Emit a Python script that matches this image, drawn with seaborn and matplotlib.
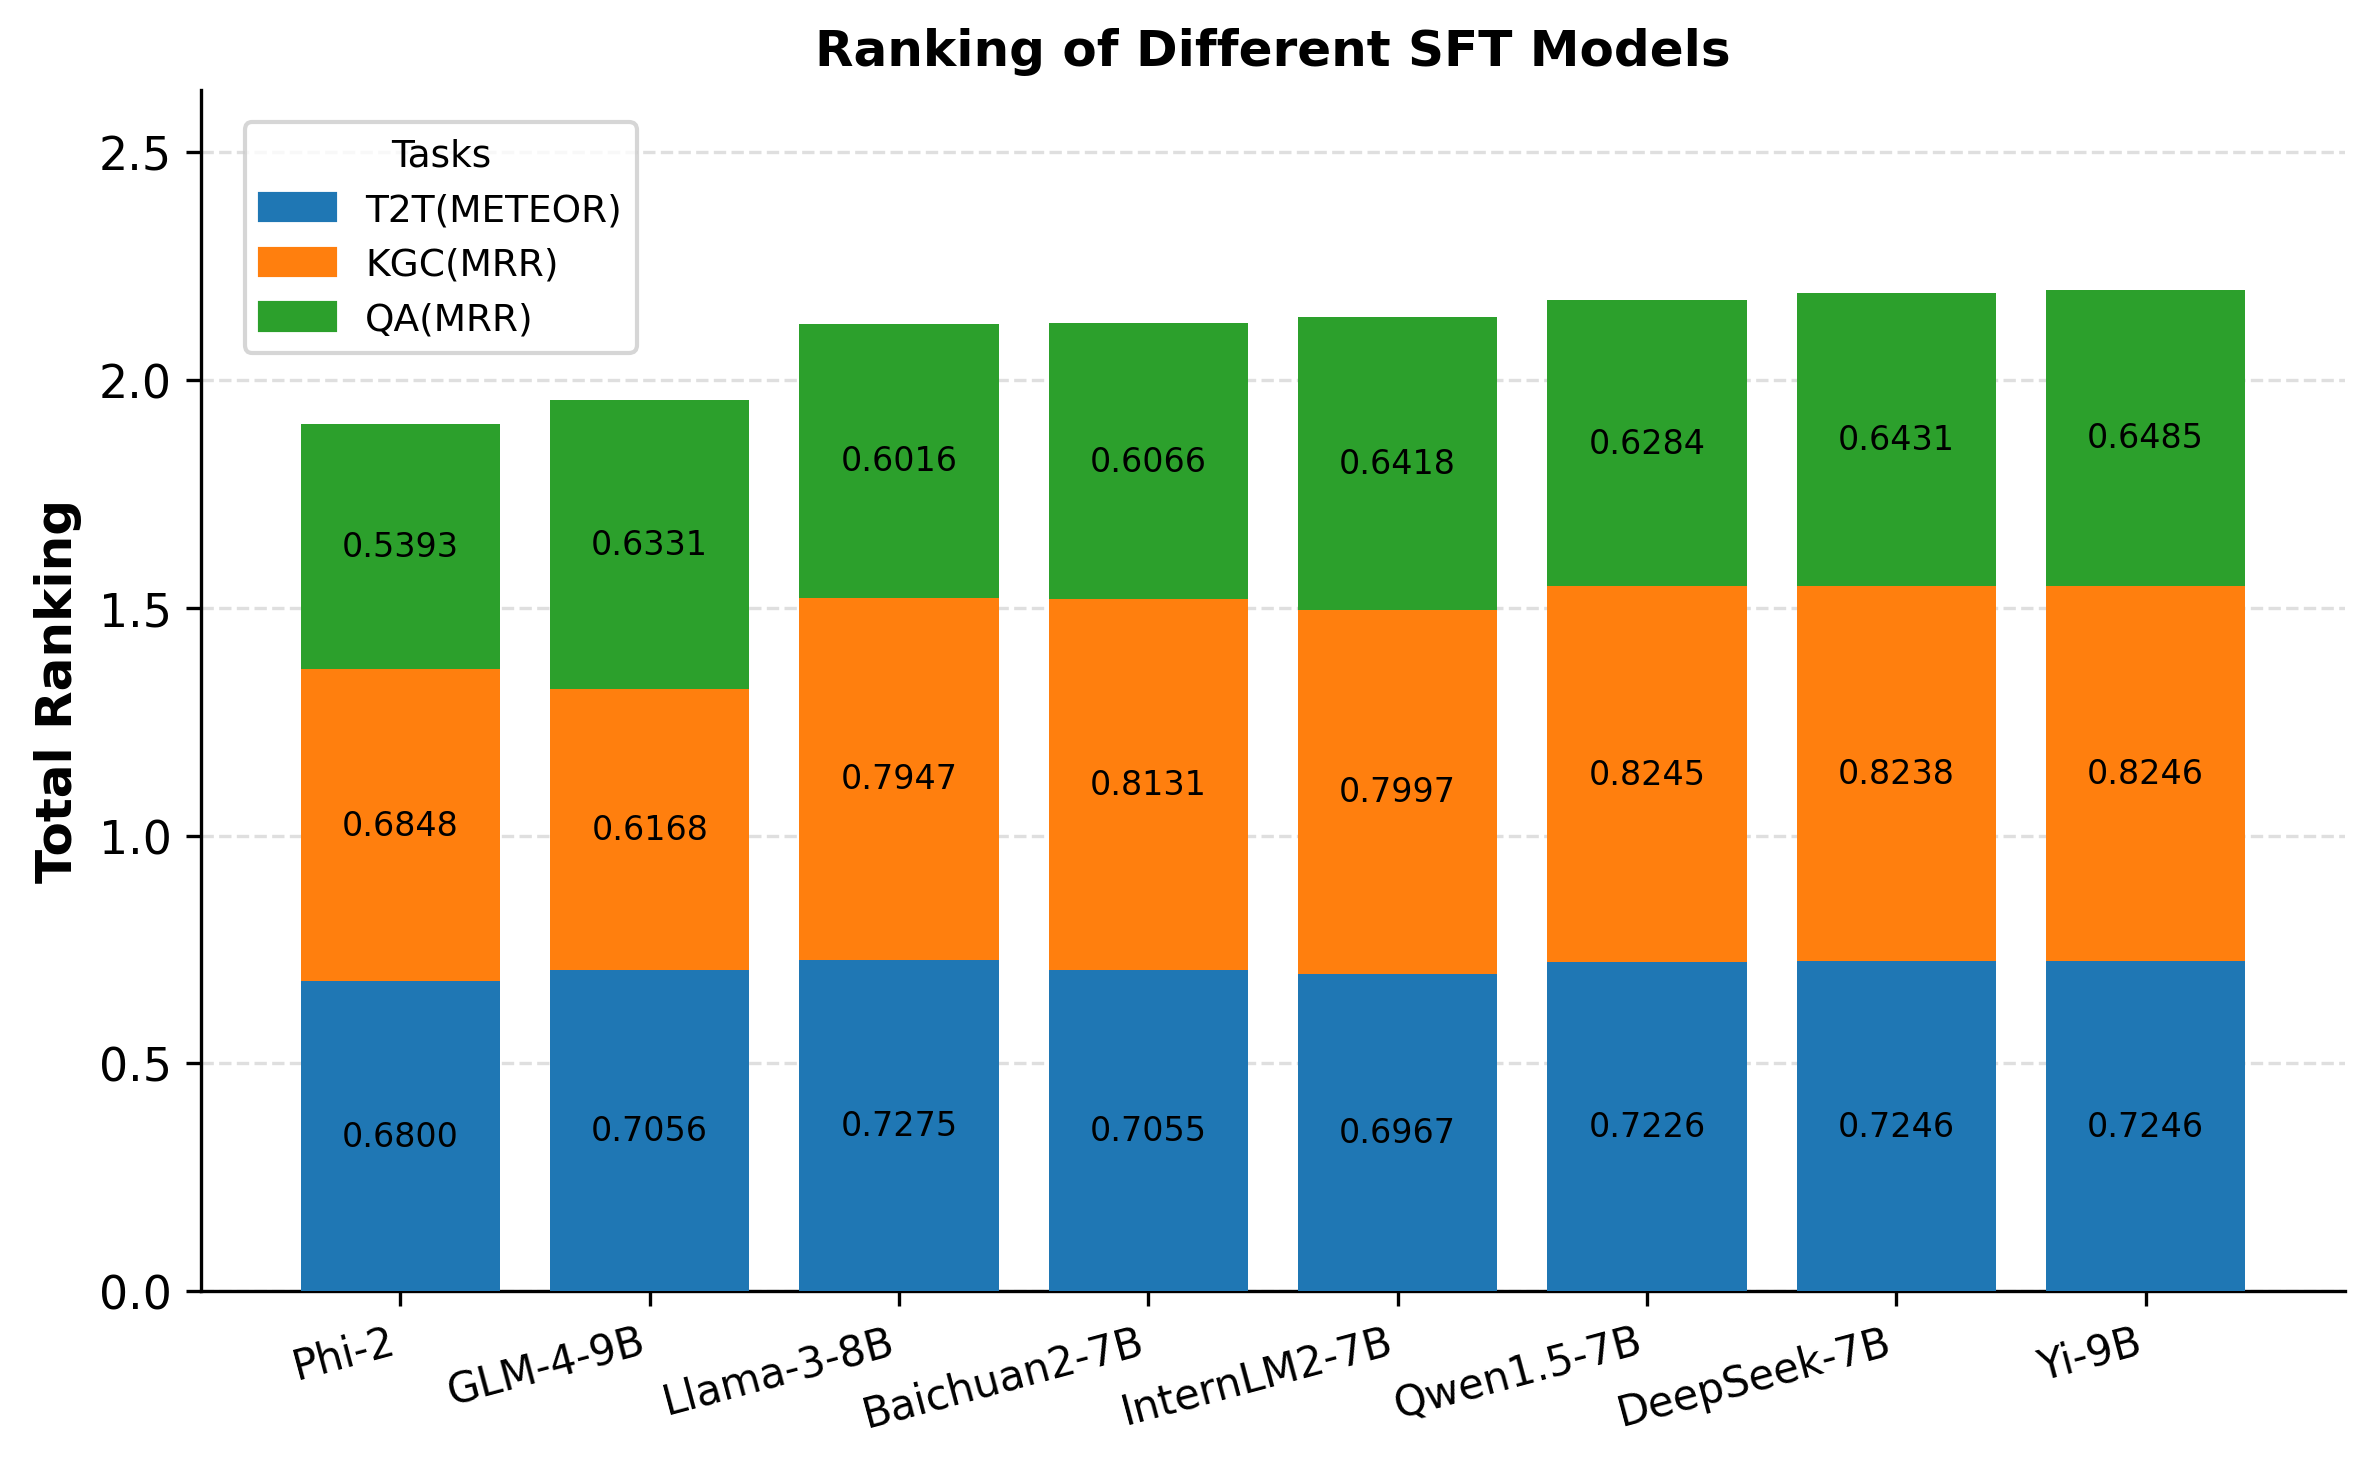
import numpy as np
import pandas as pd
import matplotlib.pyplot as plt
import seaborn as sns
from matplotlib.patches import Patch

models = ['Phi-2', 'GLM-4-9B', 'Llama-3-8B', 'Baichuan2-7B', 'InternLM2-7B',
          'Qwen1.5-7B', 'DeepSeek-7B', 'Yi-9B']
t2t = [0.6800, 0.7056, 0.7275, 0.7055, 0.6967, 0.7226, 0.7246, 0.7246]
kgc = [0.6848, 0.6168, 0.7947, 0.8131, 0.7997, 0.8245, 0.8238, 0.8246]
qa = [0.5393, 0.6331, 0.6016, 0.6066, 0.6418, 0.6284, 0.6431, 0.6485]
tasks = ['T2T(METEOR)', 'KGC(MRR)', 'QA(MRR)']
colors = ['#1f77b4', '#ff7f0e', '#2ca02c']

df = pd.DataFrame({'Model': models, 'T2T': t2t, 'KGC': kgc, 'QA': qa})
df['base1'] = df['T2T']
df['base2'] = df['T2T'] + df['KGC']
df['total'] = df['base2'] + df['QA']

plt.rcParams['font.family'] = ['DejaVu Sans']

fig, ax = plt.subplots(figsize=(7.88, 4.883), dpi=300)
fig.subplots_adjust(left=0.085, right=0.992, bottom=0.118, top=0.938)

# stacked bars drawn as overlapping cumulative layers
sns.barplot(data=df, x='Model', y='total', color=colors[2], saturation=1, width=0.8,
            edgecolor='none', linewidth=0, ax=ax, zorder=3)
sns.barplot(data=df, x='Model', y='base2', color=colors[1], saturation=1, width=0.8,
            edgecolor='none', linewidth=0, ax=ax, zorder=3)
sns.barplot(data=df, x='Model', y='base1', color=colors[0], saturation=1, width=0.8,
            edgecolor='none', linewidth=0, ax=ax, zorder=3)

for i, row in df.iterrows():
    ax.text(i, row['T2T'] / 2, f"{row['T2T']:.4f}", ha='center', va='center', fontsize=8, zorder=4)
    ax.text(i, row['base1'] + row['KGC'] / 2, f"{row['KGC']:.4f}", ha='center', va='center', fontsize=8, zorder=4)
    ax.text(i, row['base2'] + row['QA'] / 2, f"{row['QA']:.4f}", ha='center', va='center', fontsize=8, zorder=4)

ax.set_ylim(0, df['total'].max() * 1.2)
ax.set_xlim(-0.8, len(models) - 0.2)
ax.set_title('Ranking of Different SFT Models', fontsize=12, fontweight='bold')
ax.set_xlabel('')
ax.set_ylabel('Total Ranking', fontsize=12, fontweight='bold')
ax.tick_params(axis='y', labelsize=11)
ax.tick_params(axis='x', labelsize=10)
plt.setp(ax.get_xticklabels(), rotation=15, ha='right')
ax.grid(axis='y', linestyle='--', alpha=0.4, zorder=0)
ax.set_axisbelow(True)
sns.despine(ax=ax)

handles = [Patch(color=c, label=t) for c, t in zip(colors, tasks)]
ax.legend(handles=handles, title='Tasks', loc='upper left', fontsize=9, title_fontsize=9,
          bbox_to_anchor=(0.0205, 0.973), borderaxespad=0)

plt.savefig('out.png', dpi=300)
